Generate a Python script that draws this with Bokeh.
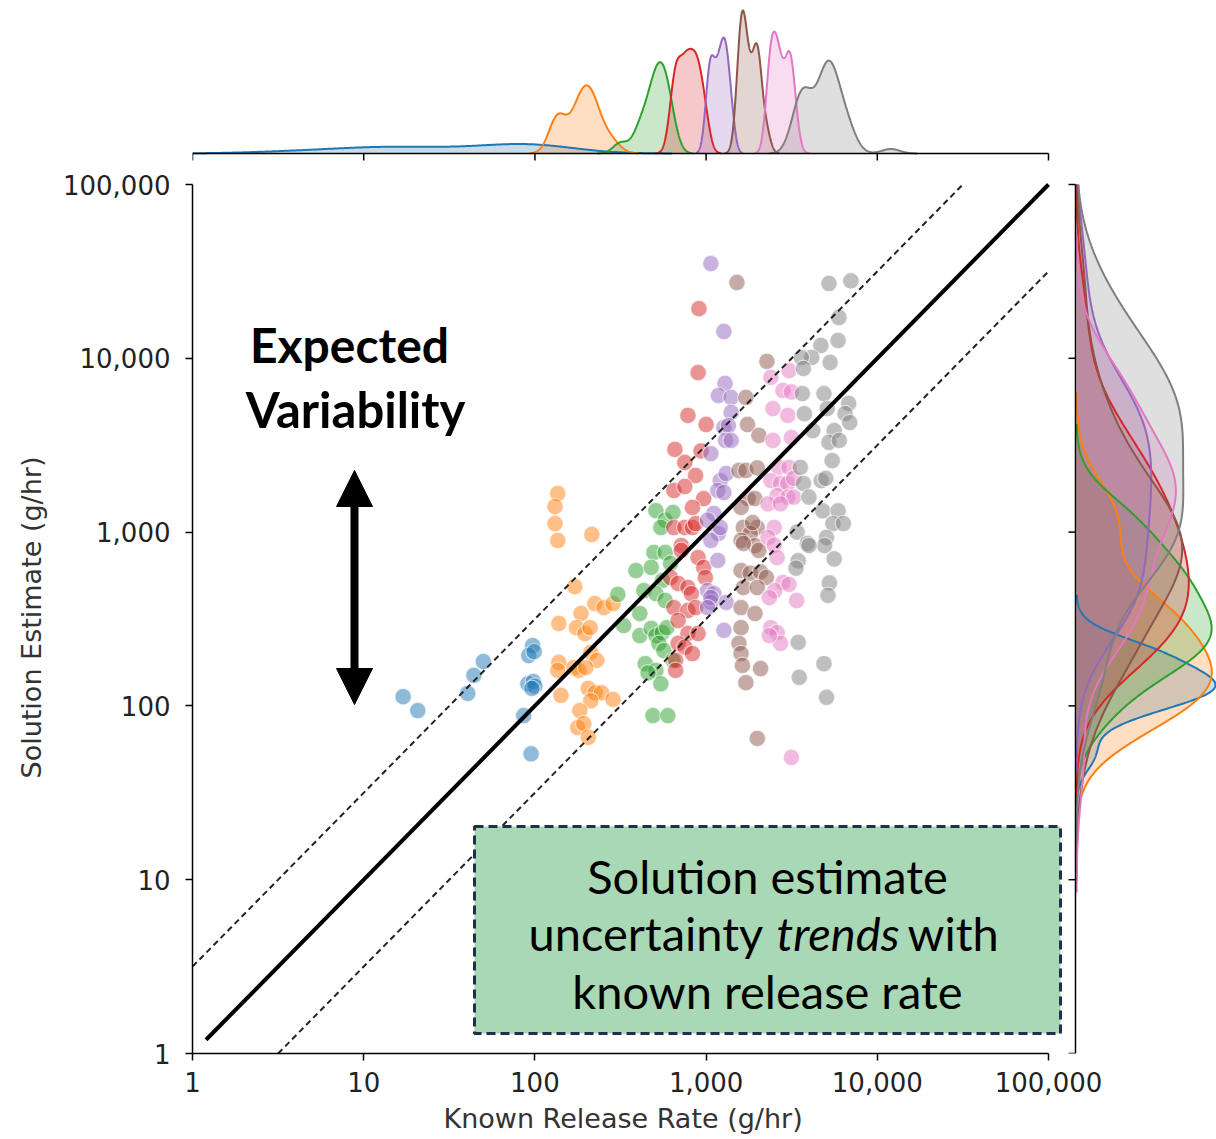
import numpy as np
from bokeh.plotting import figure
from bokeh.models import (Range1d, LinearScale, FixedTicker, BoxAnnotation,
                          Label, Arrow, NormalHead, Title)
from bokeh.embed import file_html
from bokeh.resources import INLINE

# ---------------- data ----------------
colors = ["#1f77b4", "#ff7f0e", "#2ca02c", "#d62728",
          "#9467bd", "#8c564b", "#e377c2", "#7f7f7f"]

blue_x = [17, 20.7, 40.5, 44, 50, 97, 92, 99, 91, 98, 100, 96, 86, 95]
blue_y = [113, 94, 118, 150, 180, 222, 195, 205, 134, 138, 130, 126, 88, 53]
# known rates whose estimate is zero (not drawable on a log axis; only in the top density)
blue_zero_est_x = [3, 5, 7, 9, 11, 13, 16, 20]

orange_x = [136, 131, 131, 136, 215, 171, 224, 253, 286, 186, 138, 175, 196, 210, 212, 230,
            138, 136, 169, 181, 198, 142, 205, 225, 245, 212, 286, 183, 178, 193, 205]
orange_y = [1668, 1404, 1120, 895, 969, 486, 388, 368, 388, 340, 298, 282, 261, 282, 203, 183,
            178, 160, 166, 160, 166, 115, 126, 119, 119, 107, 109, 94, 75, 79, 66]

green_x = [509, 577, 640, 544, 495, 577, 389, 478, 620, 555, 433, 509, 577, 410, 330, 410,
           478, 509, 555, 590, 530, 567, 441, 509, 544, 458, 640, 305, 489, 598]
green_y = [1330, 1170, 1297, 1063, 763, 763, 601, 626, 660, 527, 461, 443, 404, 340, 290, 254,
           279, 254, 264, 282, 229, 208, 175, 160, 134, 155, 183, 438, 88, 88]

red_x = [908, 898, 783, 1000, 657, 935, 751, 868, 648, 751, 968, 832, 648, 751,
         832, 868, 716, 716, 898, 968, 990, 620, 686, 783, 820, 648, 783, 868, 686, 783,
         898, 686, 751, 832, 664, 664]
red_y = [19300, 8280, 4690, 4160, 2990, 2930, 2514, 2117, 1735, 1830, 1560,
         1386, 1063, 1063, 1063, 1120, 837, 784, 714, 626, 548, 548, 506, 480, 443, 368,
         354, 368, 310, 261, 261, 229, 218, 200, 183, 160]

purple_x = [1066, 1270, 1290, 1180, 1400, 1400, 1270, 1350, 1300, 1400, 1066, 1210, 1310, 1170,
            1270, 1110, 1020, 1180, 1066, 1210, 1170, 1020, 1110, 1066, 1310, 1270, 1066, 1020]
purple_y = [35100, 14260, 7160, 6110, 5950, 4880, 4000, 4100, 3370, 3370, 2830, 1980, 2173, 1735,
            1690, 1280, 1170, 982, 895, 1063, 687, 461, 443, 394, 394, 272, 420, 368]

brown_x = [1514, 2265, 1708, 1745, 2034, 1555, 1708, 1990, 1760, 1930, 1600, 1650, 1990, 1810,
           1870, 1600, 1930, 1650, 2030, 1600, 1810, 2080, 2250, 1650, 1990, 1600, 1930, 1600,
           1555, 1600, 1630, 2080, 1708, 1990]
brown_y = [27300, 9590, 5950, 4160, 3600, 2262, 2262, 2340, 1560, 1560, 1386, 1063, 1063, 982,
           1135, 895, 837, 860, 784, 601, 580, 590, 548, 480, 480, 368, 340, 282, 229, 200, 171,
           164, 136, 65]

pink_x = [2390, 3050, 2810, 3150, 2455, 3000, 2455, 3150, 2660, 3050, 2390, 2720, 3000, 3250,
          2600, 3000, 3250, 2300, 2720, 2500, 2300, 2500, 2600, 2810, 2520, 2340, 3050, 3380,
          2390, 2600, 2720, 2340, 3150]
pink_y = [7760, 8510, 6530, 6400, 5140, 4690, 3370, 3500, 2355, 2355, 1980, 1905, 1905, 2040,
          1620, 1590, 1590, 1455, 1455, 1063, 931, 840, 714, 513, 461, 420, 500, 404, 282, 264,
          229, 254, 50.5]

gray_x = [5220, 7010, 5970, 5900, 4680, 4140, 3600, 5300, 3700, 4880, 3650, 5100, 6800, 6480,
          6900, 3750, 4200, 5600, 5220, 6000, 5450, 4700, 5000, 3550, 3700, 3990, 4800, 5900,
          5500, 6340, 5050, 3400, 3900, 4920, 3990, 5600, 3450, 3350, 5250, 5150, 3450, 4880,
          3500, 5050]
gray_y = [26950, 27900, 17170, 12660, 11850, 10110, 10100, 9460, 8740, 6270, 6270, 5140, 5500,
          4800, 4270, 4800, 3840, 3840, 3280, 3370, 2580, 1980, 2040, 2355, 1905, 1590, 1325,
          1325, 1120, 1120, 931, 1000, 860, 837, 837, 700, 684, 620, 510, 432, 232, 175, 146, 112]
gray_zero_est_x = [12000]

xs_all = [blue_x, orange_x, green_x, red_x, purple_x, brown_x, pink_x, gray_x]
ys_all = [blue_y, orange_y, green_y, red_y, purple_y, brown_y, pink_y, gray_y]
zero_all = [blue_zero_est_x, [], [], [], [], [], [], gray_zero_est_x]

axis_ticks = [1, 10, 100, 1000, 10000, 100000]
axis_tick_labels = ["1", "10", "100", "1,000", "10,000", "100,000"]
x_label = "Known Release Rate (g/hr)"
y_label = "Solution Estimate (g/hr)"
ref_x = [1.2, 100000]
band = 10 ** 0.5
upper_x = [1, 100000 / band]
lower_x = [band, 100000]

# ---------------- layout helpers (pixel -> data) ----------------
W, H = 1216, 1139
X0, DX, Y0, DY = 192.0, 171.2, 1053.0, 173.8


def xv(px):
    return 10 ** ((px - X0) / DX)


def yv(py):
    return 10 ** ((Y0 - py) / DY)


def kde_log(vals, weight, lo=0.0, hi=5.0):
    lv = np.log10(np.asarray(vals, float))
    n = lv.size
    bw = lv.std(ddof=1) * n ** (-0.2)
    g = np.linspace(max(lv.min() - 3 * bw, lo), min(lv.max() + 3 * bw, hi), 400)
    d = np.exp(-0.5 * ((g[:, None] - lv[None, :]) / bw) ** 2).sum(axis=1) / (n * bw * np.sqrt(2 * np.pi))
    return 10 ** g, d * weight


p = figure(width=W, height=H, x_axis_type="log", y_axis_type="log",
           x_range=Range1d(1, xv(W)), y_range=Range1d(1, yv(0)),
           output_backend="svg", toolbar_location=None,
           min_border_left=192, min_border_right=0, min_border_top=0, min_border_bottom=86)
p.outline_line_color = None
p.xgrid.visible = False
p.ygrid.visible = False
p.background_fill_color = "white"

# ---------------- marginal densities ----------------
n_top = sum(len(a) + len(z) for a, z in zip(xs_all, zero_all))
n_right = sum(len(a) for a in ys_all)
top_d = [kde_log(list(a) + list(z), (len(a) + len(z)) / n_top) for a, z in zip(xs_all, zero_all)]
right_d = [kde_log(a, len(a) / n_right) for a in ys_all]
Dt = max(d.max() for _, d in top_d)
Dr = max(d.max() for _, d in right_d)
st = Dt / 143.0
sr = Dr / 139.0
p.extra_y_ranges = {"topd": Range1d(-(Y0 - 153) * st, 153 * st)}
p.extra_y_scales = {"topd": LinearScale()}
p.extra_x_ranges = {"rightd": Range1d(-(1076 - X0) * sr, (W - 1076) * sr)}
p.extra_x_scales = {"rightd": LinearScale()}

for (gx, d), c in zip(top_d, colors):
    p.varea(x=gx, y1=np.zeros_like(d), y2=d, fill_color=c, fill_alpha=0.25, y_range_name="topd")
for (gx, d), c in zip(top_d, colors):
    p.line(gx, d, line_color=c, line_width=2, y_range_name="topd")
for (gy, d), c in zip(right_d, colors):
    p.harea(y=gy, x1=np.zeros_like(d), x2=d, fill_color=c, fill_alpha=0.25, x_range_name="rightd")
for (gy, d), c in zip(right_d, colors):
    p.line(d, gy, line_color=c, line_width=2, x_range_name="rightd")

# marginal spines and ticks
p.line([axis_ticks[0], axis_ticks[-1]], [yv(153)] * 2, line_color="black", line_width=1.5)
p.segment(x0=axis_ticks, x1=axis_ticks, y0=[yv(153)] * 6, y1=[yv(160)] * 6,
          line_color="black", line_width=1.5)
p.line([xv(1075)] * 2, [axis_ticks[0], axis_ticks[-1]], line_color="black", line_width=1.5)
p.segment(x0=[xv(1068)] * 6, x1=[xv(1075)] * 6, y0=axis_ticks, y1=axis_ticks,
          line_color="black", line_width=1.5)

# ---------------- scatter ----------------
for gx, gy, c in zip(xs_all, ys_all, colors):
    p.scatter(gx, gy, size=16.5, fill_color=c, fill_alpha=0.5,
              line_color="white", line_alpha=0.6, line_width=1.2)

# reference lines
p.line(ref_x, ref_x, line_color="black", line_width=4)
p.line(upper_x, [v * band for v in upper_x], line_color="#222222", line_width=2, line_dash="6 4")
p.line(lower_x, [v / band for v in lower_x], line_color="#222222", line_width=2, line_dash="6 4")

# ---------------- axes ----------------
for ax in (p.xaxis[0], p.yaxis[0]):
    ax.ticker = FixedTicker(ticks=axis_ticks, minor_ticks=[])
    ax.major_label_overrides = {t: lab for t, lab in zip(axis_ticks, axis_tick_labels)}
    ax.bounds = (axis_ticks[0], axis_ticks[-1])
    ax.axis_line_color = "black"
    ax.axis_line_width = 1.5
    ax.major_tick_line_color = "black"
    ax.major_tick_line_width = 1.5
    ax.major_tick_out = 7
    ax.major_tick_in = 0
    ax.minor_tick_out = 0
    ax.minor_tick_in = 0
    ax.major_label_text_font = "DejaVu Sans"
    ax.major_label_text_font_size = "26px"
    ax.major_label_text_color = "#222222"

p.xaxis.major_label_standoff = 11
p.yaxis.major_label_standoff = 15

# axis titles centred on the 1..100,000 span (the frame itself is wider/taller)
xt = Title(text=x_label, align="left", offset=251, standoff=12,
           text_font="DejaVu Sans", text_font_size="27px", text_font_style="normal",
           text_color="#333333")
p.add_layout(xt, "below")
yt = Title(text=y_label, align="left", offset=275, standoff=25,
           text_font="DejaVu Sans", text_font_size="27px", text_font_style="normal",
           text_color="#333333")
p.add_layout(yt, "left")

# ---------------- annotations ----------------
box = BoxAnnotation(left=xv(474), right=xv(1060), top=yv(826), bottom=yv(1033),
                    fill_color="#a9d8b6", fill_alpha=1.0, line_color="#1f3048",
                    line_alpha=1.0, line_width=3, line_dash="9 5")
p.add_layout(box)

FONT = "Lato"
p.add_layout(Label(x=xv(767), y=yv(875), text="Solution estimate", text_font=FONT,
                   text_font_size="47px", text_align="center", text_baseline="middle",
                   text_color="black"))
p.add_layout(Label(x=xv(528), y=yv(932), text="uncertainty", text_font=FONT,
                   text_font_size="47px", text_align="left", text_baseline="middle",
                   text_color="black"))
p.add_layout(Label(x=xv(776), y=yv(932), text="trends", text_font=FONT,
                   text_font_size="47px", text_font_style="italic", text_align="left",
                   text_baseline="middle", text_color="black"))
p.add_layout(Label(x=xv(907), y=yv(932), text="with", text_font=FONT,
                   text_font_size="47px", text_align="left", text_baseline="middle",
                   text_color="black"))
p.add_layout(Label(x=xv(767), y=yv(990), text="known release rate", text_font=FONT,
                   text_font_size="47px", text_align="center", text_baseline="middle",
                   text_color="black"))

p.add_layout(Label(x=xv(349), y=yv(344), text="Expected", text_font=FONT,
                   text_font_size="48px", text_font_style="bold", text_align="center",
                   text_baseline="middle", text_color="black"))
p.add_layout(Label(x=xv(355), y=yv(408), text="Variability", text_font=FONT,
                   text_font_size="49px", text_font_style="bold", text_align="center",
                   text_baseline="middle", text_color="black"))

p.add_layout(Arrow(start=NormalHead(size=36, fill_color="black", line_color="black"),
                   end=NormalHead(size=36, fill_color="black", line_color="black"),
                   x_start=xv(354), y_start=yv(704), x_end=xv(354), y_end=yv(470),
                   line_color="black", line_width=8))

open("out.html", "w").write(file_html(p, INLINE))
